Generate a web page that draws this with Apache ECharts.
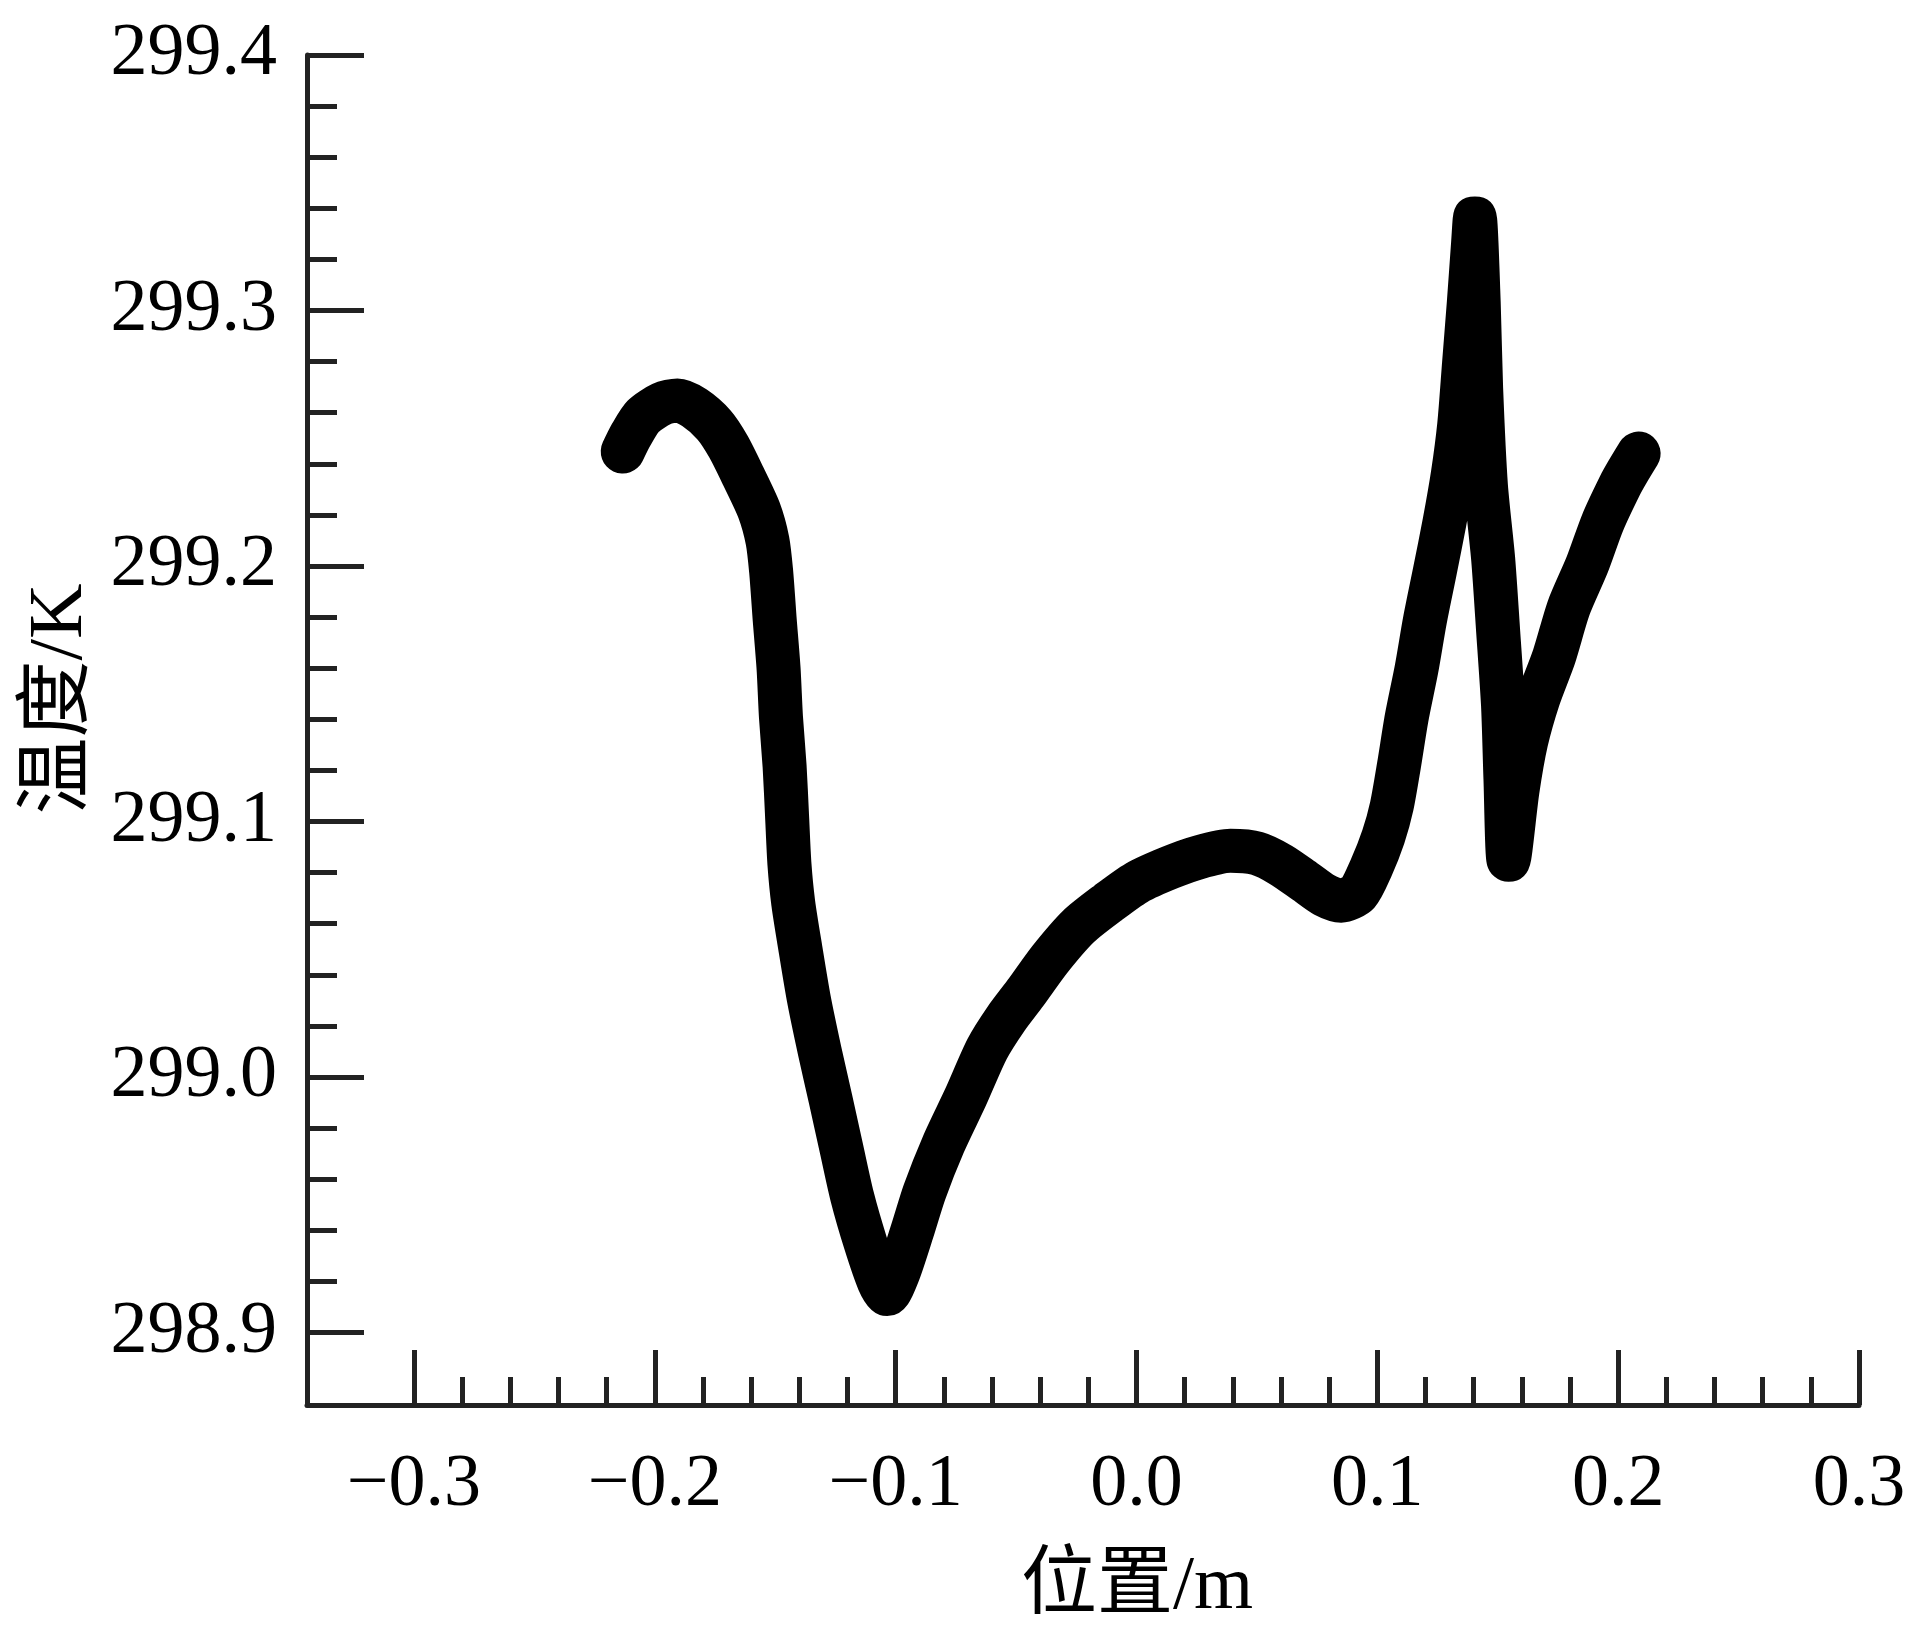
<!DOCTYPE html>
<html>
<head>
<meta charset="utf-8">
<script src="https://cdn.jsdelivr.net/npm/echarts@6/dist/echarts.min.js"></script>
<style>
html,body{margin:0;padding:0;background:#fff;}
#chart{width:1909px;height:1631px;}
</style>
</head>
<body>
<div id="chart"></div>
<script>
// Position (m) along the line
const positionX = [
  -0.2133, -0.2098, -0.2048, -0.1972, -0.1906, -0.1835, -0.1754, -0.1694, -0.1633, -0.1567,
  -0.1532, -0.1517, -0.1502, -0.1486, -0.1476, -0.1461, -0.1451, -0.1441, -0.1425, -0.1395,
  -0.1360, -0.1315, -0.1270, -0.1225, -0.1180, -0.1125, -0.1070, -0.1035, -0.0990, -0.0930,
  -0.0880, -0.0800, -0.0710, -0.0620, -0.0540, -0.0460, -0.0360, -0.0240, -0.0120, 0.0000,
  0.0140, 0.0260, 0.0390, 0.0500, 0.0600, 0.0700, 0.0780, 0.0850, 0.0920, 0.0975,
  0.1025, 0.1060, 0.1090, 0.1122, 0.1163, 0.1198, 0.1239, 0.1279, 0.1314, 0.1340,
  0.1360, 0.1380, 0.1398, 0.1405, 0.1421, 0.1431, 0.1451, 0.1481, 0.1502, 0.1522,
  0.1532, 0.1545, 0.1582, 0.1618, 0.1668, 0.1734, 0.1795, 0.1871, 0.1936, 0.2007,
  0.2040, 0.2085
];
// Temperature (K)
const temperatureK = [
  299.2448, 299.2514, 299.2586, 299.2634, 299.2648, 299.2619, 299.2552, 299.2467, 299.2352, 299.2218,
  299.2099, 299.1980, 299.1789, 299.1598, 299.1407, 299.1217, 299.1026, 299.0835, 299.0680, 299.0500,
  299.0304, 299.0100, 298.9912, 298.9720, 298.9530, 298.9350, 298.9200, 298.9150, 298.9230, 298.9400,
  298.9550, 298.9740, 298.9920, 299.0110, 299.0230, 299.0330, 299.0460, 299.0590, 299.0680, 299.0760,
  299.0820, 299.0860, 299.0885, 299.0875, 299.0830, 299.0765, 299.0712, 299.0690, 299.0720, 299.0820,
  299.0940, 299.1060, 299.1220, 299.1407, 299.1598, 299.1789, 299.1980, 299.2171, 299.2362, 299.2552,
  299.2791, 299.3030, 299.3268, 299.3360, 299.3030, 299.2696, 299.2314, 299.2028, 299.1741, 299.1455,
  299.1169, 299.0850, 299.1121, 299.1312, 299.1479, 299.1646, 299.1837, 299.2004, 299.2171, 299.2314,
  299.2370, 299.2440
];
// Major tick values (labelled)
const xTicks = [-0.3, -0.2, -0.1, 0.0, 0.1, 0.2, 0.3];
const yTicks = [298.9, 299.0, 299.1, 299.2, 299.3, 299.4];
const minorDivisions = 5;

const xName = '位置/m';
const yName = '温度/K';

function minorBetween(majors) {
  const out = [];
  for (let i = 0; i < majors.length - 1; i++) {
    const step = (majors[i + 1] - majors[i]) / minorDivisions;
    for (let k = 1; k < minorDivisions; k++) out.push(+(majors[i] + step * k).toFixed(4));
  }
  return out;
}
const xMinor = minorBetween(xTicks);
const yMinor = minorBetween(yTicks);

const serif = "'Liberation Serif', 'Times New Roman', 'Noto Sans CJK SC', serif";
const axisColor = '#222';
const xMin = -0.3444, xMax = 0.3;
const yMin = 298.8716, yMax = 299.4;

const data = positionX.map((x, i) => [x, temperatureK[i]]);

const chart = echarts.init(document.getElementById('chart'));
chart.setOption({
  animation: false,
  backgroundColor: '#fff',
  grid: { left: 307, right: 50, top: 55, bottom: 226, containLabel: false },
  xAxis: [
    {
      type: 'value', min: xMin, max: xMax, position: 'bottom',
      axisLine: { show: true, onZero: false, lineStyle: { color: axisColor, width: 5 } },
      axisTick: { show: true, inside: true, length: 55, customValues: xTicks,
        lineStyle: { color: axisColor, width: 5 } },
      axisLabel: { show: true, customValues: xTicks, margin: 44,
        fontSize: 74, fontFamily: serif, color: '#000',
        formatter: v => (v < -1e-9 ? '\u2212' : '') + Math.abs(v).toFixed(1) },
      splitLine: { show: false },
      name: xName, nameLocation: 'middle', nameGap: 145,
      nameTextStyle: { fontSize: 76, fontFamily: serif, color: '#000', padding: [0, 0, 0, 108] }
    },
    {
      type: 'value', min: xMin, max: xMax, position: 'bottom',
      axisLine: { show: false, onZero: false },
      axisTick: { show: true, inside: true, length: 28, customValues: xMinor,
        lineStyle: { color: axisColor, width: 5 } },
      axisLabel: { show: false },
      splitLine: { show: false }
    }
  ],
  yAxis: [
    {
      type: 'value', min: yMin, max: yMax, position: 'left',
      axisLine: { show: true, onZero: false, lineStyle: { color: axisColor, width: 5 } },
      axisTick: { show: true, inside: true, length: 57, customValues: yTicks,
        lineStyle: { color: axisColor, width: 5 } },
      axisLabel: { show: true, customValues: yTicks, margin: 30,
        fontSize: 74, fontFamily: serif, color: '#000',
        formatter: v => v.toFixed(1) },
      splitLine: { show: false },
      name: yName, nameLocation: 'middle', nameGap: 199,
      nameTextStyle: { fontSize: 77, fontFamily: serif, color: '#000', padding: [0, 0, 0, 62] }
    },
    {
      type: 'value', min: yMin, max: yMax, position: 'left',
      axisLine: { show: false, onZero: false },
      axisTick: { show: true, inside: true, length: 30, customValues: yMinor,
        lineStyle: { color: axisColor, width: 5 } },
      axisLabel: { show: false },
      splitLine: { show: false }
    }
  ],
  series: [
    {
      type: 'line',
      xAxisIndex: 0, yAxisIndex: 0,
      data: data,
      showSymbol: false,
      clip: false,
      smooth: 0.25,
      lineStyle: { color: '#000', width: 44, cap: 'round', join: 'round' }
    }
  ]
});
</script>
</body>
</html>
